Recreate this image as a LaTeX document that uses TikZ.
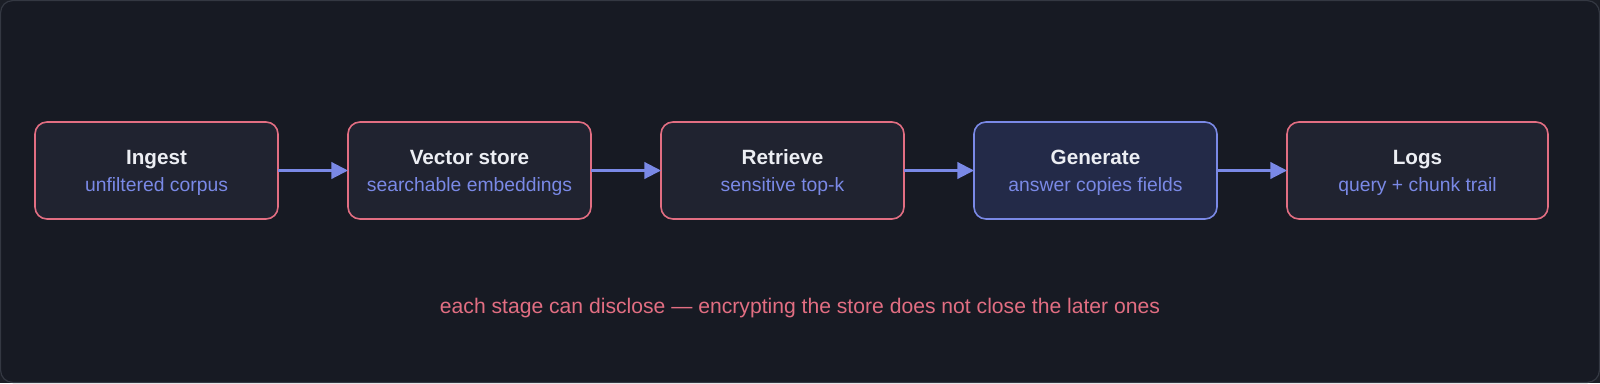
\documentclass[tikz,border=0pt]{standalone}
\usepackage{fontspec}
\setmainfont{Liberation Sans}
\usetikzlibrary{arrows.meta}
\definecolor{pagebg}{RGB}{27,30,38}
\definecolor{canvas}{RGB}{23,26,35}
\definecolor{framec}{RGB}{52,56,66}
\definecolor{boxfill}{RGB}{32,35,48}
\definecolor{genfill}{RGB}{35,42,72}
\definecolor{pinkc}{RGB}{226,110,130}
\definecolor{bluec}{RGB}{122,137,230}
\definecolor{titlec}{RGB}{236,238,243}
\tikzset{
  stagebox/.style={draw=pinkc, fill=boxfill, line width=1.2pt, rounded corners=9pt,
    minimum width=182.25pt, minimum height=72.75pt, inner sep=0pt, outer sep=0pt},
  genbox/.style={stagebox, draw=bluec, fill=genfill},
  ttl/.style={anchor=base, inner sep=0pt, text=titlec, font=\fontsize{15.5pt}{18pt}\selectfont\bfseries},
  sub/.style={anchor=base, inner sep=0pt, text=bluec, font=\fontsize{14.5pt}{17pt}\selectfont},
  arr/.style={draw=bluec, line width=1.6pt, -{Triangle[length=12.5pt, width=12.5pt]}},
  foot/.style={anchor=base, inner sep=0pt, text=pinkc, font=\fontsize{15.85pt}{18pt}\selectfont}
}
\begin{document}
\begin{tikzpicture}[x=0.75pt, y=-0.75pt]
\useasboundingbox (0,0) rectangle (1600,383);
\fill[pagebg] (0,0) rectangle (1600,383);
\draw[framec, fill=canvas, line width=0.9pt, rounded corners=9pt] (0.6,0.6) rectangle (1599.4,382.4);

\node[stagebox] (b1) at (156.5,170.5) {};
\node[stagebox] (b2) at (469.5,170.5) {};
\node[stagebox] (b3) at (782.5,170.5) {};
\node[genbox] (b4) at (1095.5,170.5) {};
\node[stagebox, minimum width=195.75pt] (b5) at (1417.5,170.5) {};

\node[ttl] (t1) at (156.5,164) {Ingest};
\node[sub] (s1) at (156.5,191.5) {unfiltered corpus};
\node[ttl] (t2) at (469.5,164) {Vector store};
\node[sub] (s2) at (469.5,191.5) {searchable embeddings};
\node[ttl] (t3) at (782.5,164) {Retrieve};
\node[sub] (s3) at (782.5,191.5) {sensitive top-k};
\node[ttl] (t4) at (1095.5,164) {Generate};
\node[sub] (s4) at (1095.5,191.5) {answer copies fields};
\node[ttl] (t5) at (1417.5,164) {Logs};
\node[sub] (s5) at (1417.5,191.5) {query + chunk trail};

\draw[arr] (b1.east) -- (b2.west);
\draw[arr] (b2.east) -- (b3.west);
\draw[arr] (b3.east) -- (b4.west);
\draw[arr] (b4.east) -- (b5.west);

\node[foot] (note) at (800,313) {each stage can disclose — encrypting the store does not close the later ones};
\end{tikzpicture}
\end{document}
